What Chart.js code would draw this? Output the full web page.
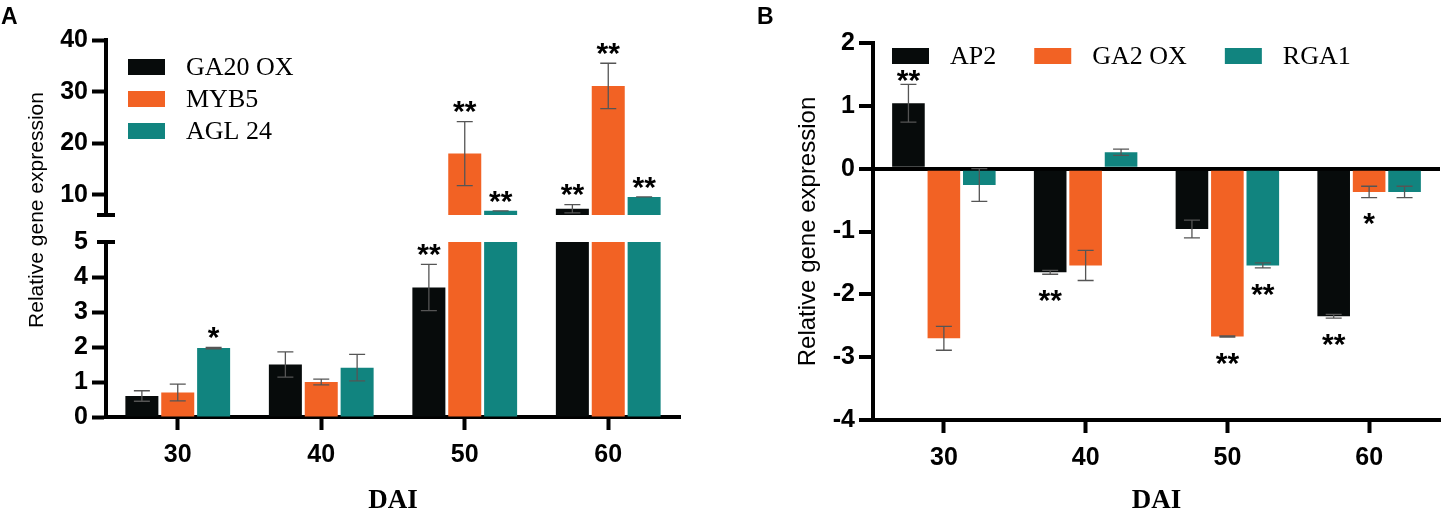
<!DOCTYPE html>
<html>
<head>
<meta charset="utf-8">
<script src="https://cdn.jsdelivr.net/npm/chart.js@4.4.0/dist/chart.umd.min.js"></script>
<style>
  body { margin: 0; background: #fff; width: 1444px; height: 515px; overflow: hidden; position: relative; }
  canvas { position: absolute; top: 0; }
</style>
</head>
<body>
<canvas id="aBottom" width="720" height="515" style="left:0"></canvas>
<canvas id="aTop" width="720" height="515" style="left:0"></canvas>
<canvas id="bChart" width="724" height="515" style="left:720px"></canvas>
<script>
// data
const days = ["30", "40", "50", "60"];
const colors = ["#070b0b", "#f26224", "#11847f"];

// A: broken axis panel
const genesA = ["GA20 OX", "MYB5", "AGL 24"];
const ga20Mean = [0.6, 1.5, 3.7, 7.3];
const ga20Err = [0.15, 0.36, 0.66, 0.8];
const myb5Mean = [0.7, 1.0, 18.0, 31.1];
const myb5Err = [0.24, 0.08, 6.2, 4.4];
const agl24Mean = [1.97, 1.41, 6.9, 9.6];
const agl24Err = [0.02, 0.38, 0, 0];
const ga20Sig = ["", "", "**", "**"];
const myb5Sig = ["", "", "**", "**"];
const agl24Sig = ["*", "", "**", "**"];
const upperTicksA = [10, 20, 30, 40];
const lowerTicksA = [0, 1, 2, 3, 4, 5];

// B
const genesB = ["AP2", "GA2 OX", "RGA1"];
const ap2Mean = [1.04, -1.65, -0.96, -2.35];
const ap2Err = [0.30, 0.03, 0.14, 0.03];
const ga2Mean = [-2.70, -1.54, -2.67, -0.37];
const ga2Err = [0.19, 0.24, 0.01, 0.09];
const rga1Mean = [-0.26, 0.26, -1.54, -0.37];
const rga1Err = [0.26, 0.05, 0.04, 0.09];
const ap2Sig = ["**", "**", "", "**"];
const ga2Sig = ["", "", "**", "*"];
const rga1Sig = ["", "", "**", ""];

const tickFont = { family: "Liberation Sans", size: 25, weight: "bold" };

function bars(labels, means, errs, sigs) {
  return labels.map((label, i) => ({
    label: label,
    data: means[i],
    err: errs[i],
    sig: sigs[i],
    backgroundColor: colors[i],
    borderWidth: 0,
    clip: 0,
    categoryPercentage: 0.75,
    barPercentage: 0.92,
  }));
}

// error bars drawn from the y scale
const errorBars = {
  id: "errorBars",
  afterDatasetsDraw(chart) {
    const { ctx, chartArea: a } = chart;
    const y = chart.scales.y;
    ctx.save();
    ctx.beginPath();
    ctx.rect(a.left, a.top - 1, a.right - a.left, a.bottom - a.top + 2);
    ctx.clip();
    ctx.strokeStyle = "#555";
    ctx.lineWidth = 1.3;
    chart.data.datasets.forEach((ds, i) => {
      chart.getDatasetMeta(i).data.forEach((bar, j) => {
        const m = ds.data[j], e = ds.err[j];
        const y1 = y.getPixelForValue(m + e), y2 = y.getPixelForValue(m - e);
        ctx.beginPath();
        ctx.moveTo(bar.x, y1); ctx.lineTo(bar.x, y2);
        ctx.moveTo(bar.x - 8, y1); ctx.lineTo(bar.x + 8, y1);
        ctx.moveTo(bar.x - 8, y2); ctx.lineTo(bar.x + 8, y2);
        ctx.stroke();
      });
    });
    ctx.restore();
  },
};

// significance stars
const sigMarks = {
  id: "sigMarks",
  afterDatasetsDraw(chart, args, o) {
    const { ctx } = chart;
    const y = chart.scales.y;
    const fs = 30;
    ctx.save();
    ctx.font = "bold " + fs + "px 'Liberation Sans'";
    ctx.textAlign = "center";
    ctx.textBaseline = "alphabetic";
    ctx.fillStyle = "#000";
    chart.data.datasets.forEach((ds, i) => {
      chart.getDatasetMeta(i).data.forEach((bar, j) => {
        const s = ds.sig[j];
        if (!s) return;
        const m = ds.data[j], e = ds.err[j];
        const end = m >= 0 ? m + e : m - e;
        if (end < y.min || end > y.max) return;
        const py = y.getPixelForValue(end);
        const base = m >= 0 ? py - o.above + 0.39 * fs : py + o.below + 0.72 * fs;
        ctx.fillText(s, bar.x, base);
      });
    });
    ctx.restore();
  },
};

// legend boxes with serif labels
const boxLegend = {
  id: "boxLegend",
  afterDraw(chart, args, o) {
    if (!o.show) return;
    const { ctx } = chart;
    ctx.save();
    ctx.font = "26px 'Liberation Serif'";
    ctx.textBaseline = "middle";
    let x = o.x, y = o.y;
    chart.data.datasets.forEach((ds) => {
      ctx.fillStyle = ds.backgroundColor;
      ctx.fillRect(x, y - 8, 37, 16);
      ctx.fillStyle = "#000";
      ctx.fillText(ds.label, x + 58, y + 1);
      if (o.row) x += 58 + ctx.measureText(ds.label).width + o.gap;
      else y += o.gap;
    });
    ctx.restore();
  },
};

// panel letter, free y title and axis break caps
const decor = {
  id: "decor",
  afterDraw(chart, args, o) {
    const { ctx, chartArea: a } = chart;
    ctx.save();
    ctx.fillStyle = "#000";
    if (o.letter) {
      ctx.font = "bold 23px 'Liberation Sans'";
      ctx.textBaseline = "alphabetic";
      ctx.fillText(o.letter, o.letterX, 24);
    }
    if (o.yTitle) {
      ctx.translate(o.yTitleX, o.yTitleY);
      ctx.rotate(-Math.PI / 2);
      ctx.font = "21px 'Liberation Sans'";
      ctx.textAlign = "center";
      ctx.textBaseline = "middle";
      ctx.fillText(o.yTitle, 0, 0);
      ctx.setTransform(1, 0, 0, 1, 0, 0);
    }
    if (o.cap) {
      const yy = o.cap === "bottom" ? a.bottom : a.top;
      ctx.strokeStyle = "#000";
      ctx.lineWidth = 4;
      ctx.beginPath();
      ctx.moveTo(a.left - 9, yy);
      ctx.lineTo(a.left + 9, yy);
      ctx.stroke();
    }
    ctx.restore();
  },
};

const plugins = [errorBars, sigMarks, boxLegend, decor];

// A upper part
new Chart(document.getElementById("aTop"), {
  type: "bar",
  data: { labels: days, datasets: bars(genesA, [ga20Mean, myb5Mean, agl24Mean], [ga20Err, myb5Err, agl24Err], [ga20Sig, myb5Sig, agl24Sig]) },
  plugins: plugins,
  options: {
    responsive: false,
    animation: false,
    layout: { padding: { left: 40, right: 40, top: 40, bottom: 300 } },
    plugins: {
      legend: { display: false },
      tooltip: { enabled: false },
      sigMarks: { above: 12, below: 14 },
      boxLegend: { show: true, x: 128, y: 67, gap: 32 },
      decor: { cap: "bottom" },
    },
    scales: {
      x: { display: false },
      y: {
        min: 6.1,
        max: 40,
        afterBuildTicks: (s) => { s.ticks = upperTicksA.map((v) => ({ value: v })); },
        ticks: { color: "#000", font: tickFont, padding: 4 },
        border: { color: "#000", width: 4 },
        grid: { drawOnChartArea: false, tickLength: 14, tickWidth: 4, tickColor: "#000" },
        afterFit: (s) => { s.width = 66; },
      },
    },
  },
});

// A lower part
new Chart(document.getElementById("aBottom"), {
  type: "bar",
  data: { labels: days, datasets: bars(genesA, [ga20Mean, myb5Mean, agl24Mean], [ga20Err, myb5Err, agl24Err], [ga20Sig, myb5Sig, agl24Sig]) },
  plugins: plugins,
  options: {
    responsive: false,
    animation: false,
    layout: { padding: { left: 40, right: 40, top: 242, bottom: 0 } },
    plugins: {
      legend: { display: false },
      tooltip: { enabled: false },
      sigMarks: { above: 12, below: 14 },
      boxLegend: { show: false },
      decor: { letter: "A", letterX: 1, yTitle: "Relative gene expression", yTitleX: 37, yTitleY: 210, cap: "top" },
    },
    scales: {
      x: {
        ticks: { color: "#000", font: tickFont, padding: 10 },
        border: { color: "#000", width: 4 },
        grid: { offset: false, drawOnChartArea: false, tickLength: 13, tickWidth: 4, tickColor: "#000" },
        title: { display: true, text: "DAI", color: "#000", font: { family: "Liberation Serif", size: 27, weight: "bold", lineHeight: 1 }, padding: 0 },
        afterFit: (s) => { s.height = 98; },
      },
      y: {
        min: 0,
        max: 5,
        afterBuildTicks: (s) => { s.ticks = lowerTicksA.map((v) => ({ value: v })); },
        ticks: { color: "#000", font: tickFont, padding: 4 },
        border: { color: "#000", width: 4 },
        grid: {
          drawOnChartArea: false, tickLength: 14, tickWidth: 4,
          tickColor: (c) => (c.tick && c.tick.value === 5 ? "rgba(0,0,0,0)" : "#000"),
        },
        afterFit: (s) => { s.width = 66; },
      },
    },
  },
});

// B
new Chart(document.getElementById("bChart"), {
  type: "bar",
  data: { labels: days, datasets: bars(genesB, [ap2Mean, ga2Mean, rga1Mean], [ap2Err, ga2Err, rga1Err], [ap2Sig, ga2Sig, rga1Sig]) },
  plugins: plugins,
  options: {
    responsive: false,
    animation: false,
    layout: { padding: { left: 70, right: 4, top: 43, bottom: 0 } },
    plugins: {
      legend: { display: false },
      tooltip: { enabled: false },
      sigMarks: { above: 6, below: 14 },
      boxLegend: { show: true, row: true, x: 172, y: 56, gap: 38 },
      decor: { letter: "B", letterX: 37 },
    },
    scales: {
      x: {
        ticks: { color: "#000", font: tickFont, padding: 10 },
        border: { color: "#000", width: 4 },
        grid: { offset: false, drawOnChartArea: false, tickLength: 13, tickWidth: 4, tickColor: "#000" },
        title: { display: true, text: "DAI", color: "#000", font: { family: "Liberation Serif", size: 27, weight: "bold", lineHeight: 1 }, padding: 0 },
        afterFit: (s) => { s.height = 95; },
      },
      y: {
        min: -4,
        max: 2,
        ticks: { stepSize: 1, color: "#000", font: tickFont, padding: 4 },
        border: { color: "#000", width: 4 },
        grid: {
          color: (c) => (c.tick && c.tick.value === 0 ? "#000" : "rgba(0,0,0,0)"),
          lineWidth: 4, tickLength: 14, tickWidth: 4, tickColor: "#000",
        },
        title: { display: true, text: "Relative gene expression", color: "#000", font: { family: "Liberation Sans", size: 24 }, padding: { top: 4, bottom: 4 } },
        afterFit: (s) => { s.width = 83; },
      },
    },
  },
});
</script>
</body>
</html>
